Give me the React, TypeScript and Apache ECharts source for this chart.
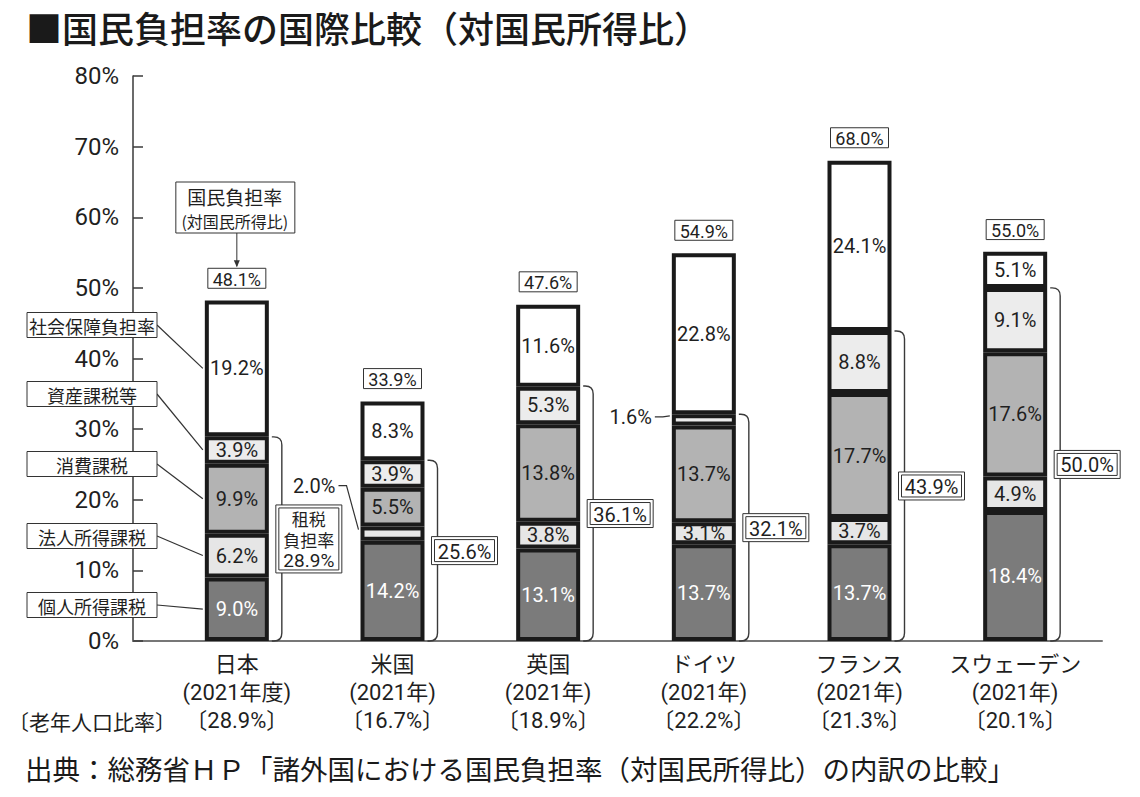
import React, { useEffect, useRef } from 'react';
import * as echarts from 'echarts';

// ---------- data ----------
const categories = ['日本', '米国', '英国', 'ドイツ', 'フランス', 'スウェーデン'];
const yearLabels = ['(2021年度)', '(2021年)', '(2021年)', '(2021年)', '(2021年)', '(2021年)'];
const elderlyRatioLabels = ['〔28.9%〕', '〔16.7%〕', '〔18.9%〕', '〔22.2%〕', '〔21.3%〕', '〔20.1%〕'];
const elderlyRatioTitle = '〔老年人口比率〕';

const seriesNames = ['個人所得課税', '法人所得課税', '消費課税', '資産課税等', '社会保障負担率'];
const personalIncomeTax = [9.0, 14.2, 13.1, 13.7, 13.7, 18.4];
const corporateIncomeTax = [6.2, 2.0, 3.8, 3.1, 3.7, 4.9];
const consumptionTax = [9.9, 5.5, 13.8, 13.7, 17.7, 17.6];
const assetTax = [3.9, 3.9, 5.3, 1.6, 8.8, 9.1];
const socialSecurity = [19.2, 8.3, 11.6, 22.8, 24.1, 5.1];
const taxBurdenRate = [28.9, 25.6, 36.1, 32.1, 43.9, 50.0];
const nationalBurdenRate = [48.1, 33.9, 47.6, 54.9, 68.0, 55.0];

const titleText = '■国民負担率の国際比較（対国民所得比）';
const sourceText = '出典：総務省ＨＰ「諸外国における国民負担率（対国民所得比）の内訳の比較」';
const annotationLines = ['国民負担率', '(対国民所得比)'];
const taxBoxTitle = ['租税', '負担率'];

// ---------- styles / layout ----------
const segments = [personalIncomeTax, corporateIncomeTax, consumptionTax, assetTax, socialSecurity];
const segColors = ['#7b7b7b', '#e6e6e6', '#b3b3b3', '#ececec', '#ffffff'];
const segLabelColors = ['#ffffff', '#1f1f1f', '#1f1f1f', '#1f1f1f', '#1f1f1f'];
const NUM = 'Roboto, "Noto Sans CJK JP", sans-serif';
const CJK = '"Noto Sans CJK JP", "Noto Sans CJK SC", sans-serif';
const INK = '#1f1f1f';
const BAR_W = 64;
const HALF_OUT = 34;
// legend boxes on the left (pixel centre y of each box, in series order)
const legendBoxCenters = [605, 536, 464, 394, 325];
// small segments labelled outside the bar
const outsideCallouts = [
  { category: 1, seg: 1, dx: -23, dy: -48 },
  { category: 3, seg: 3, dx: -18, dy: -3 },
];

const midOf = (seg: number, i: number) => {
  let s = 0;
  for (let k = 0; k < seg; k++) s += segments[k][i];
  return s + segments[seg][i] / 2;
};

const isOutside = (seg: number, i: number) =>
  outsideCallouts.some((c) => c.seg === seg && c.category === i);

function buildOption(): any {
  const barSeries = segments.map((arr, s) => ({
    type: 'bar',
    name: seriesNames[s],
    stack: 'total',
    xAxisIndex: 0,
    yAxisIndex: 0,
    barWidth: BAR_W,
    itemStyle: { color: segColors[s], borderColor: '#1a1a1a', borderWidth: 4 },
    label: {
      show: true,
      position: 'inside',
      formatter: (p: any) => `${Number(p.value).toFixed(1)}%`,
      color: segLabelColors[s],
      fontSize: 20,
      fontFamily: NUM,
    },
    data: arr.map((v, i) => (isOutside(s, i) ? { value: v, label: { show: false } } : v)),
    z: 3,
  }));

  const totalSeries = {
    type: 'custom',
    xAxisIndex: 0,
    yAxisIndex: 0,
    z: 6,
    silent: true,
    data: nationalBurdenRate.map((v, i) => [i, v]),
    renderItem: (_params: any, api: any) => {
      const i = api.value(0);
      const v = api.value(1);
      const p = api.coord([i, v]);
      const bw = 58;
      const bh = 20;
      const by = p[1] - 33;
      const children: any[] = [
        { type: 'rect', shape: { x: p[0] - bw / 2, y: by, width: bw, height: bh }, style: { fill: '#fff', stroke: '#333', lineWidth: 1 } },
        { type: 'text', style: { text: `${v.toFixed(1)}%`, x: p[0], y: by + bh / 2 + 1, fill: INK, fontSize: 18, fontFamily: NUM, align: 'center', verticalAlign: 'middle' } },
      ];
      if (i === 0) {
        const top = 182;
        const bottom = 233;
        children.push(
          { type: 'rect', shape: { x: p[0] - 61, y: top, width: 119, height: bottom - top }, style: { fill: '#fff', stroke: '#333', lineWidth: 1 } },
          {
            type: 'text',
            style: {
              text: `{a|${annotationLines[0]}}\n{b|${annotationLines[1]}}`,
              x: p[0] - 2,
              y: (top + bottom) / 2 + 1,
              fill: INK,
              fontFamily: CJK,
              align: 'center',
              verticalAlign: 'middle',
              rich: {
                a: { fontSize: 19, lineHeight: 24, fontFamily: CJK, fill: INK },
                b: { fontSize: 16, lineHeight: 24, fontFamily: CJK, fill: INK },
              },
            },
          },
          { type: 'line', shape: { x1: p[0], y1: bottom, x2: p[0], y2: by - 2 }, style: { stroke: '#333', lineWidth: 1 } },
          { type: 'polygon', shape: { points: [[p[0] - 3, by - 8], [p[0] + 3, by - 8], [p[0], by - 1]] }, style: { fill: '#333' } },
        );
      }
      return { type: 'group', children };
    },
  };

  const braceSeries = {
    type: 'custom',
    xAxisIndex: 0,
    yAxisIndex: 0,
    z: 6,
    silent: true,
    data: taxBurdenRate.map((v, i) => [i, v]),
    renderItem: (_params: any, api: any) => {
      const i = api.value(0);
      const v = api.value(1);
      const pt = api.coord([i, v]);
      const pb = api.coord([i, 0]);
      const cx = pt[0];
      const yTop = pt[1];
      const yBot = pb[1];
      const bx = cx + 45;
      const r = 8;
      const x0 = cx + HALF_OUT + 1;
      const d = `M${x0} ${yTop} L${bx - r} ${yTop} Q${bx} ${yTop} ${bx} ${yTop + r} L${bx} ${yBot - r} Q${bx} ${yBot} ${bx - r} ${yBot} L${x0} ${yBot}`;
      const mid = (yTop + yBot) / 2;
      const w = 66;
      const h = i === 0 ? 68 : 28;
      const rx = bx - 6;
      const ry = mid - h / 2;
      const children: any[] = [
        { type: 'path', shape: { pathData: d }, style: { fill: 'none', stroke: '#3a3a3a', lineWidth: 1.4 } },
        { type: 'rect', shape: { x: rx, y: ry, width: w, height: h }, style: { fill: '#fff', stroke: '#333', lineWidth: 1 } },
        { type: 'rect', shape: { x: rx + 3, y: ry + 3, width: w - 6, height: h - 6 }, style: { fill: 'none', stroke: '#333', lineWidth: 1 } },
      ];
      const valueText = `${v.toFixed(1)}%`;
      if (i === 0) {
        children.push({
          type: 'text',
          style: {
            text: `{c|${taxBoxTitle[0]}}\n{c|${taxBoxTitle[1]}}\n{n|${valueText}}`,
            x: rx + w / 2,
            y: mid + 1,
            fill: INK,
            align: 'center',
            verticalAlign: 'middle',
            rich: {
              c: { fontSize: 17, lineHeight: 21, fontFamily: CJK, fill: INK },
              n: { fontSize: 19, lineHeight: 21, fontFamily: NUM, fill: INK },
            },
          },
        });
      } else {
        children.push({ type: 'text', style: { text: valueText, x: rx + w / 2, y: mid + 1, fill: INK, fontSize: 20, fontFamily: NUM, align: 'center', verticalAlign: 'middle' } });
      }
      return { type: 'group', children };
    },
  };

  const legendSeries = {
    type: 'custom',
    xAxisIndex: 0,
    yAxisIndex: 0,
    z: 7,
    silent: true,
    data: seriesNames.map((_n, s) => [0, midOf(s, 0), s]),
    renderItem: (_params: any, api: any) => {
      const s = api.value(2);
      const p = api.coord([api.value(0), api.value(1)]);
      const cy = legendBoxCenters[s];
      const bx = 27;
      const bw = 130;
      const bh = 25;
      return {
        type: 'group',
        children: [
          { type: 'line', shape: { x1: bx + bw, y1: cy, x2: p[0] - HALF_OUT, y2: p[1] }, style: { stroke: '#333', lineWidth: 1.2 } },
          { type: 'rect', shape: { x: bx, y: cy - bh / 2, width: bw, height: bh }, style: { fill: '#fff', stroke: '#333', lineWidth: 1 } },
          { type: 'text', style: { text: seriesNames[s], x: bx + bw / 2, y: cy + 1, fill: INK, fontSize: 18, fontFamily: CJK, align: 'center', verticalAlign: 'middle' } },
        ],
      };
    },
  };

  const outsideSeries = {
    type: 'custom',
    xAxisIndex: 0,
    yAxisIndex: 0,
    z: 7,
    silent: true,
    data: outsideCallouts.map((c, k) => [c.category, midOf(c.seg, c.category), segments[c.seg][c.category], k]),
    renderItem: (_params: any, api: any) => {
      const k = api.value(3);
      const c = outsideCallouts[k];
      const p = api.coord([api.value(0), api.value(1)]);
      const left = p[0] - HALF_OUT;
      const tx = left + c.dx;
      const ty = p[1] + c.dy;
      return {
        type: 'group',
        children: [
          { type: 'polyline', shape: { points: [[tx + 3, ty], [tx + 11, ty], [left, p[1] - 4]] }, style: { stroke: '#333', lineWidth: 1.2, fill: 'none' } },
          { type: 'text', style: { text: `${Number(api.value(2)).toFixed(1)}%`, x: tx, y: ty, fill: INK, fontSize: 20, fontFamily: NUM, align: 'right', verticalAlign: 'middle' } },
        ],
      };
    },
  };

  return {
    animation: false,
    backgroundColor: '#ffffff',
    grid: [
      { left: 159, right: 47, top: 76, bottom: 156 },
      { left: 133, right: 38, top: 76, bottom: 156 },
    ],
    xAxis: [
      {
        type: 'category',
        gridIndex: 0,
        data: categories,
        axisLine: { show: false },
        axisTick: { show: false },
        axisLabel: {
          interval: 0,
          margin: 9,
          fontSize: 22,
          lineHeight: 28,
          color: INK,
          fontFamily: NUM,
          formatter: (v: string, idx: number) => `${v}\n${yearLabels[idx]}\n${elderlyRatioLabels[idx]}`,
        },
      },
      {
        type: 'value',
        gridIndex: 1,
        min: 0,
        max: 1,
        axisLine: { show: true, lineStyle: { color: '#777', width: 2 } },
        axisTick: { show: false },
        axisLabel: { show: false },
        splitLine: { show: false },
      },
    ],
    yAxis: [
      { type: 'value', gridIndex: 0, min: 0, max: 80, show: false },
      {
        type: 'value',
        gridIndex: 1,
        min: 0,
        max: 80,
        interval: 10,
        axisLine: { show: true, lineStyle: { color: '#3a3a3a', width: 1.5 } },
        axisTick: { show: true, inside: true, length: 10, lineStyle: { color: '#3a3a3a', width: 1.5 } },
        axisLabel: { formatter: '{value}%', margin: 14, fontSize: 24, color: INK, fontFamily: NUM },
        splitLine: { show: false },
      },
    ],
    graphic: [
      { type: 'text', x: 26, y: 27, style: { text: titleText, fill: '#1a1a1a', fontSize: 36, fontWeight: 500, fontFamily: CJK, align: 'left', verticalAlign: 'middle' } },
      { type: 'text', x: 176, y: 721, style: { text: elderlyRatioTitle, fill: INK, fontSize: 21, fontFamily: CJK, align: 'right', verticalAlign: 'middle' } },
      { type: 'text', x: 25, y: 768, style: { text: sourceText, fill: '#1a1a1a', fontSize: 27.5, fontFamily: CJK, align: 'left', verticalAlign: 'middle' } },
    ],
    series: [...barSeries, totalSeries, braceSeries, legendSeries, outsideSeries],
  };
}

export default function App() {
  const ref = useRef<HTMLDivElement>(null);
  useEffect(() => {
    document.body.style.margin = '0';
    if (!ref.current) return;
    const chart = echarts.init(ref.current, null, { renderer: 'svg' });
    chart.setOption(buildOption());
    return () => chart.dispose();
  }, []);
  return <div ref={ref} style={{ width: 1140, height: 797, background: '#fff' }} />;
}
